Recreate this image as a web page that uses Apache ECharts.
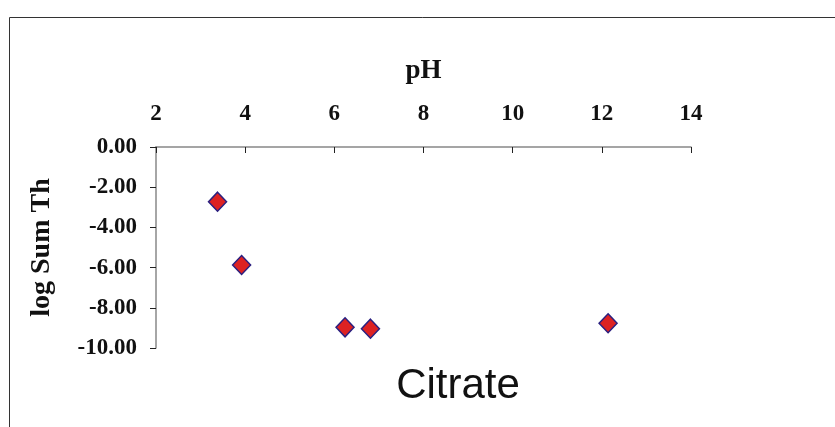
<!DOCTYPE html>
<html>
<head>
<meta charset="utf-8">
<script src="https://cdn.jsdelivr.net/npm/echarts@6/dist/echarts.min.js"></script>
<style>
html, body { margin: 0; padding: 0; background: #fff; }
#chart { width: 835px; height: 427px; }
</style>
</head>
<body>
<div id="chart"></div>
<script>
// pH vs log Sum Th (Citrate)
var phValues = [3.38, 3.92, 6.24, 6.81, 12.14];
var logSumTh = [-2.72, -5.87, -8.97, -9.04, -8.77];
var chartLabel = 'Citrate';

var points = phValues.map(function (x, i) { return [x, logSumTh[i]]; });

var serif = '"Liberation Serif", "DejaVu Serif", serif';

var option = {
    backgroundColor: '#fff',
    animation: false,
    grid: {
        left: 156,
        right: 144,
        top: 147,
        bottom: 79
    },
    graphic: [
        {
            type: 'rect',
            shape: { x: 9.5, y: 17.5, width: 840, height: 420 },
            style: { fill: 'none', stroke: '#333', lineWidth: 1 }
        },
        {
            type: 'text',
            x: 458,
            y: 386,
            style: {
                text: chartLabel,
                fontFamily: '"Liberation Sans", Arial, sans-serif',
                fontSize: 42,
                fill: '#111',
                textAlign: 'center',
                textVerticalAlign: 'middle'
            }
        }
    ],
    xAxis: {
        type: 'value',
        position: 'top',
        min: 2,
        max: 14,
        interval: 2,
        name: 'pH',
        nameLocation: 'middle',
        nameGap: 62,
        nameTextStyle: { fontFamily: serif, fontWeight: 'bold', fontSize: 27, color: '#111' },
        splitLine: { show: false },
        axisLine: { lineStyle: { color: '#888', width: 1.5 } },
        axisTick: { inside: true, length: 6, lineStyle: { color: '#222' } },
        axisLabel: {
            margin: 21,
            fontFamily: serif,
            fontWeight: 'bold',
            fontSize: 23,
            color: '#111'
        }
    },
    yAxis: {
        type: 'value',
        min: -10,
        max: 0,
        interval: 2,
        name: 'log Sum Th',
        nameLocation: 'middle',
        nameGap: 100,
        nameTextStyle: { fontFamily: serif, fontWeight: 'bold', fontSize: 28, color: '#111' },
        splitLine: { show: false },
        axisLine: { show: true, lineStyle: { color: '#888', width: 1.5 } },
        axisTick: { show: true, length: 6, lineStyle: { color: '#222' } },
        axisLabel: {
            margin: 19,
            fontFamily: serif,
            fontWeight: 'bold',
            fontSize: 23,
            color: '#111',
            formatter: function (v) { return v.toFixed(2); }
        }
    },
    series: [
        {
            type: 'scatter',
            data: points,
            symbol: 'diamond',
            symbolSize: [18, 19],
            itemStyle: {
                color: '#DD2222',
                borderColor: '#2A2080',
                borderWidth: 1.5,
                opacity: 1
            }
        }
    ]
};

var chartOutChar = echarts.init(document.getElementById('chart'));
chartOutChar.setOption(option);
</script>
</body>
</html>
